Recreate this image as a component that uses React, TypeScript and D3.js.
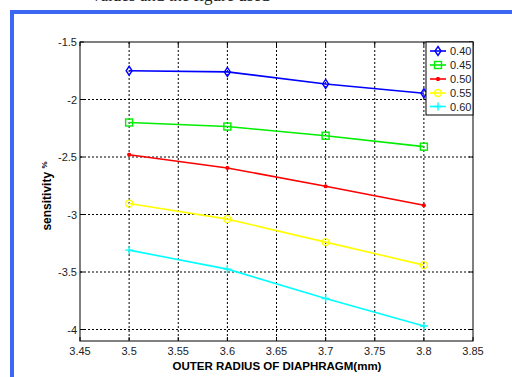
import React from "react";
import * as d3 from "d3";

const radii = [3.5, 3.6, 3.7, 3.8];
const s040 = [-1.75, -1.76, -1.865, -1.945];
const s045 = [-2.2, -2.235, -2.315, -2.41];
const s050 = [-2.48, -2.595, -2.755, -2.92];
const s055 = [-2.905, -3.04, -3.24, -3.44];
const s060 = [-3.31, -3.475, -3.73, -3.97];
const seriesNames = ["0.40", "0.45", "0.50", "0.55", "0.60"];
const seriesColors = ["#0000ff", "#00ee00", "#ff0000", "#ffff00", "#00ffff"];
const markers = ["diamond", "square", "star", "circle", "plus"];
const xTicks = [3.45, 3.5, 3.55, 3.6, 3.65, 3.7, 3.75, 3.8, 3.85];
const yTicks = [-1.5, -2, -2.5, -3, -3.5, -4];

const W = 512, H = 377;
const L = 80, R = 473, T = 42, B = 341;

function Marker({ type, x, y, color }: { type: string; x: number; y: number; color: string }) {
  const sw = 1.4;
  if (type === "diamond")
    return <path d={`M${x},${y - 4.5}L${x + 3},${y}L${x},${y + 4.5}L${x - 3},${y}Z`} fill="none" stroke={color} strokeWidth={sw} />;
  if (type === "square")
    return <rect x={x - 3.5} y={y - 3.5} width={7} height={7} fill="none" stroke={color} strokeWidth={sw} />;
  if (type === "circle")
    return <circle cx={x} cy={y} r={3.5} fill="none" stroke={color} strokeWidth={sw} />;
  if (type === "plus")
    return <path d={`M${x - 4},${y}H${x + 4}M${x},${y - 4}V${y + 4}`} stroke={color} strokeWidth={sw} />;
  return <path d={`M${x - 2},${y}H${x + 2}M${x},${y - 2}V${y + 2}M${x - 1.5},${y - 1.5}L${x + 1.5},${y + 1.5}M${x - 1.5},${y + 1.5}L${x + 1.5},${y - 1.5}`} stroke={color} strokeWidth={1.2} />;
}

export default function App() {
  const x = d3.scaleLinear().domain([3.45, 3.85]).range([L, R]);
  const y = d3.scaleLinear().domain([-4.1, -1.5]).range([B, T]);
  const data = [s040, s045, s050, s055, s060];
  const line = d3.line<number>().x((_, i) => x(radii[i])).y((d) => y(d));
  const font = "Arial, 'Liberation Sans', sans-serif";
  const legendRows = [51, 65, 79, 93, 106.5];
  return (
    <svg width={W} height={H} style={{ position: "absolute", left: 0, top: 0, background: "#fff" }}>
      <rect width={W} height={H} fill="#fff" />
      <text x={92} y={1} fontFamily="'Liberation Serif', serif" fontSize={17} fill="#222">
        values and the figure used
      </text>
      <rect x={10} y={10} width={W} height={4} fill="#3b67f2" />
      <rect x={10} y={10} width={4} height={H} fill="#3b67f2" />
      {/* grid */}
      {xTicks.slice(1, -1).map((t) => (
        <line key={"gx" + t} x1={x(t)} x2={x(t)} y1={T} y2={B} stroke="#000" strokeWidth={1} strokeDasharray="2,2" />
      ))}
      {yTicks.slice(1).map((t) => (
        <line key={"gy" + t} x1={L} x2={R} y1={y(t)} y2={y(t)} stroke="#000" strokeWidth={1} strokeDasharray="2,2" />
      ))}
      {/* ticks */}
      {xTicks.map((t) => (
        <g key={"tx" + t}>
          <line x1={x(t)} x2={x(t)} y1={B} y2={B - 4} stroke="#000" />
          <line x1={x(t)} x2={x(t)} y1={T} y2={T + 4} stroke="#000" />
          <text x={x(t)} y={B + 14} textAnchor="middle" fontFamily={font} fontSize={11} fill="#222">{t}</text>
        </g>
      ))}
      {yTicks.map((t) => (
        <g key={"ty" + t}>
          <line x1={L} x2={L + 4} y1={y(t)} y2={y(t)} stroke="#000" />
          <line x1={R} x2={R - 4} y1={y(t)} y2={y(t)} stroke="#000" />
          <text x={L - 3} y={y(t) + 4} textAnchor="end" fontFamily={font} fontSize={11} fill="#222">{t}</text>
        </g>
      ))}
      <rect x={L} y={T} width={R - L} height={B - T} fill="none" stroke="#000" strokeWidth={1} />
      {/* series */}
      {data.map((s, k) => (
        <g key={"s" + k}>
          <path d={line(s) || ""} fill="none" stroke={seriesColors[k]} strokeWidth={1.6} />
          {s.map((v, i) => (
            <Marker key={i} type={markers[k]} x={x(radii[i])} y={y(v)} color={seriesColors[k]} />
          ))}
        </g>
      ))}
      {/* legend */}
      <rect x={426} y={T} width={R - 426} height={115 - T} fill="#fff" stroke="#000" strokeWidth={1} />
      {seriesNames.map((n, k) => (
        <g key={"l" + k}>
          <line x1={430} x2={446} y1={legendRows[k]} y2={legendRows[k]} stroke={seriesColors[k]} strokeWidth={1.6} />
          <Marker type={markers[k]} x={438} y={legendRows[k]} color={seriesColors[k]} />
          <text x={450} y={legendRows[k] + 4} fontFamily={font} fontSize={11} fill="#222">{n}</text>
        </g>
      ))}
      {/* labels */}
      <text x={277} y={370} textAnchor="middle" fontFamily={font} fontSize={11.5} fontWeight="bold" fill="#000">
        OUTER RADIUS OF DIAPHRAGM(mm)
      </text>
      <text transform={`translate(51,196) rotate(-90)`} textAnchor="middle" fontFamily={font} fontSize={12} fontWeight="bold" fill="#000">
        sensitivity <tspan fontSize={8} dy={-4}>%</tspan>
      </text>
    </svg>
  );
}
